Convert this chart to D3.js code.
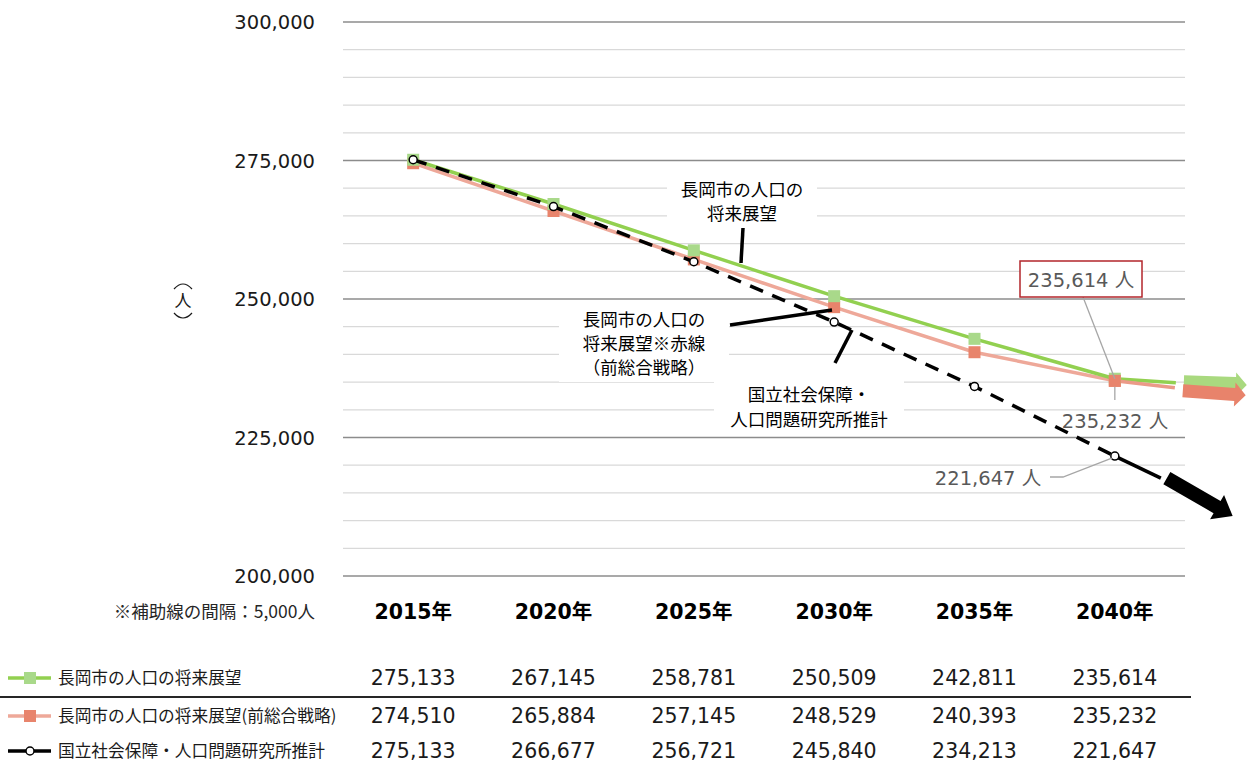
<!DOCTYPE html>
<html>
<head>
<meta charset="utf-8">
<script src="https://cdn.jsdelivr.net/npm/d3@7"></script>
<style>
  body { margin: 0; background: #fff; }
  svg { display: block; font-family: "DejaVu Sans", "Noto Sans CJK JP", sans-serif; }
</style>
</head>
<body>
<svg id="chart" width="1249" height="762"></svg>
<script>
// データ
const years = ["2015年", "2020年", "2025年", "2030年", "2035年", "2040年"];
const seriesNames = ["長岡市の人口の将来展望", "長岡市の人口の将来展望(前総合戦略)", "国立社会保障・人口問題研究所推計"];
const tenbou = [275133, 267145, 258781, 250509, 242811, 235614];
const zenSenryaku = [274510, 265884, 257145, 248529, 240393, 235232];
const shaho = [275133, 266677, 256721, 245840, 234213, 221647];
const yTicks = [200000, 225000, 250000, 275000, 300000];

const svg = d3.select("#chart");
const fmt = d3.format(",");

const x = d3.scaleBand().domain(years).range([343, 1185]);
const y = d3.scaleLinear().domain([200000, 300000]).range([576, 22]);
const cx = d => x(d) + x.bandwidth() / 2;

// 補助線
svg.append("g").selectAll("line")
    .data(d3.range(200000, 300001, 5000))
    .join("line")
    .attr("x1", 343).attr("x2", 1185)
    .attr("y1", d => y(d)).attr("y2", d => y(d))
    .attr("stroke", d => d % 25000 === 0 ? "#8c8c8c" : "#d9d9d9")
    .attr("stroke-width", d => d % 25000 === 0 ? 1.3 : 1.2);

// 縦軸ラベル
svg.append("g").selectAll("text")
    .data(yTicks)
    .join("text")
    .attr("x", 315).attr("y", d => y(d))
    .attr("dy", "0.36em")
    .attr("text-anchor", "end")
    .style("font-size", "19.5px")
    .style("fill", "#1a1a1a")
    .text(d => fmt(d));

// （人） 縦書き
const unit = svg.append("g");
unit.append("path").attr("d", "M174,289 Q183,279 192,289")
    .attr("fill", "none").attr("stroke", "#1a1a1a").attr("stroke-width", 1.2);
unit.append("text")
    .attr("x", 183).attr("y", 301)
    .attr("dy", "0.36em")
    .attr("text-anchor", "middle")
    .style("font-family", "'Noto Sans CJK JP'")
    .style("font-size", "17px")
    .style("fill", "#1a1a1a")
    .text("人");
unit.append("path").attr("d", "M174,313 Q183,323 192,313")
    .attr("fill", "none").attr("stroke", "#1a1a1a").attr("stroke-width", 1.2);

// 横軸ラベル
svg.append("g").selectAll("text")
    .data(years)
    .join("text")
    .attr("x", d => cx(d)).attr("y", 612)
    .attr("dy", "0.36em")
    .attr("text-anchor", "middle")
    .style("font-size", "20.5px")
    .style("font-weight", "bold")
    .style("fill", "#000")
    .text(d => d);

svg.append("text")
    .attr("x", 315).attr("y", 612)
    .attr("dy", "0.36em")
    .attr("text-anchor", "end")
    .style("font-family", "'Noto Sans CJK JP'")
    .style("font-size", "17.5px")
    .style("fill", "#262626")
    .text("※補助線の間隔：5,000人");

// 延長矢印
function arrow(g, x0, y0, angle, len, body, head, headLen, color) {
    const p = [[0, -body / 2], [len - headLen, -body / 2], [len - headLen, -head / 2], [len, 0],
               [len - headLen, head / 2], [len - headLen, body / 2], [0, body / 2]];
    g.append("path")
        .attr("d", "M" + p.join("L") + "Z")
        .attr("transform", `translate(${x0},${y0}) rotate(${angle})`)
        .attr("fill", color);
}

const last = years[years.length - 1];
const ext = svg.append("g");
// 緑
ext.append("line")
    .attr("x1", cx(last)).attr("y1", y(tenbou[5]))
    .attr("x2", cx(last) + 61).attr("y2", y(tenbou[5]) + 4)
    .attr("stroke", "#92d050").attr("stroke-width", 3.5);
arrow(ext, cx(last) + 69, y(tenbou[5]) + 4, 2, 63, 15, 24, 11, "#a9d97f");
// 赤
ext.append("line")
    .attr("x1", cx(last)).attr("y1", y(zenSenryaku[5]))
    .attr("x2", cx(last) + 60).attr("y2", y(zenSenryaku[5]) + 7)
    .attr("stroke", "#eb9a88").attr("stroke-width", 3.5);
arrow(ext, cx(last) + 68, y(zenSenryaku[5]) + 10, 4, 63, 13, 24, 11, "#e8836b");
// 黒
ext.append("line")
    .attr("x1", cx(last)).attr("y1", y(shaho[5]))
    .attr("x2", cx(last) + 46).attr("y2", y(shaho[5]) + 22)
    .attr("stroke", "#000").attr("stroke-width", 3.5);
arrow(ext, cx(last) + 52, y(shaho[5]) + 22, 30, 76, 14, 28, 18, "#000");

// 折れ線
const line = d3.line().x((d, i) => cx(years[i])).y(d => y(d));

svg.append("path").datum(zenSenryaku)
    .attr("d", line).attr("fill", "none")
    .attr("stroke", "#eea899").attr("stroke-width", 3.5);
svg.append("path").datum(tenbou)
    .attr("d", line).attr("fill", "none")
    .attr("stroke", "#92d050").attr("stroke-width", 3.5);

svg.append("g").selectAll("rect")
    .data(zenSenryaku)
    .join("rect")
    .attr("x", (d, i) => cx(years[i]) - 6).attr("y", d => y(d) - 6)
    .attr("width", 12).attr("height", 12)
    .attr("fill", "#e8846c");
svg.append("g").selectAll("rect")
    .data(tenbou)
    .join("rect")
    .attr("x", (d, i) => cx(years[i]) - 6).attr("y", d => y(d) - 6)
    .attr("width", 12).attr("height", 12)
    .attr("fill", "#a9d98a");
// 2040は赤が上
svg.append("rect")
    .attr("x", cx(last) - 6).attr("y", y(zenSenryaku[5]) - 6)
    .attr("width", 12).attr("height", 12)
    .attr("fill", "#e8846c");

svg.append("path").datum(shaho)
    .attr("d", line).attr("fill", "none")
    .attr("stroke", "#000").attr("stroke-width", 3.5)
    .attr("stroke-dasharray", "14,10");
svg.append("g").selectAll("circle")
    .data(shaho)
    .join("circle")
    .attr("cx", (d, i) => cx(years[i])).attr("cy", d => y(d))
    .attr("r", 4)
    .attr("fill", "#fff").attr("stroke", "#000").attr("stroke-width", 1.5);

// 吹き出し
const notes = svg.append("g").style("font-family", "'Noto Sans CJK JP'").style("font-size", "17.5px");
function callout(lines, xc, y0, w, lh) {
    const h = lines.length * lh + 8;
    notes.append("rect")
        .attr("x", xc - w / 2).attr("y", y0 - lh / 2 - 6)
        .attr("width", w).attr("height", h)
        .attr("fill", "#fff");
    notes.append("g").selectAll("text")
        .data(lines)
        .join("text")
        .attr("x", xc).attr("y", (d, i) => y0 + i * lh)
        .attr("dy", "0.36em")
        .attr("text-anchor", "middle")
        .style("fill", "#000")
        .text(d => d);
}
function leader(x1, y1, x2, y2) {
    notes.append("line")
        .attr("x1", x1).attr("y1", y1).attr("x2", x2).attr("y2", y2)
        .attr("stroke", "#000").attr("stroke-width", 3.5);
}
callout(["長岡市の人口の", "将来展望"], 742, 190, 150, 24);
leader(743, 228, 741, 263);
callout(["長岡市の人口の", "将来展望※赤線", "（前総合戦略）"], 644, 320, 170, 24);
leader(730, 325, 832, 310);
callout(["国立社会保障・", "人口問題研究所推計"], 809, 395, 190, 25);
leader(852, 330, 835, 363);

// データラベル
const lab = svg.append("g").style("font-size", "19.5px").style("fill", "#595959");
lab.append("line")
    .attr("x1", 1083).attr("y1", 297).attr("x2", cx(last)).attr("y2", y(tenbou[5]))
    .attr("stroke", "#a6a6a6").attr("stroke-width", 1.3);
lab.append("rect")
    .attr("x", 1020).attr("y", 261).attr("width", 122).attr("height", 36)
    .attr("fill", "#fff").attr("stroke", "#b3262b").attr("stroke-width", 1.5);
lab.append("text")
    .attr("x", 1081).attr("y", 280).attr("dy", "0.36em")
    .attr("text-anchor", "middle")
    .text(fmt(tenbou[5]) + " 人");

lab.append("line")
    .attr("x1", cx(last)).attr("y1", y(zenSenryaku[5]) + 6).attr("x2", cx(last)).attr("y2", 400)
    .attr("stroke", "#a6a6a6").attr("stroke-width", 1.3);
lab.append("text")
    .attr("x", 1115).attr("y", 421).attr("dy", "0.36em")
    .attr("text-anchor", "middle")
    .text(fmt(zenSenryaku[5]) + " 人");

lab.append("path")
    .attr("d", `M1050,477L1063,477L${cx(last) - 3},${y(shaho[5]) + 2}`)
    .attr("fill", "none")
    .attr("stroke", "#a6a6a6").attr("stroke-width", 1.3);
lab.append("text")
    .attr("x", 988).attr("y", 478).attr("dy", "0.36em")
    .attr("text-anchor", "middle")
    .text(fmt(shaho[5]) + " 人");

// データテーブル
const rowsY = [678, 716, 751];
const allSeries = [tenbou, zenSenryaku, shaho];
const table = svg.append("g");
allSeries.forEach((vals, r) => {
    table.append("g").selectAll("text")
        .data(vals)
        .join("text")
        .attr("x", (d, i) => cx(years[i])).attr("y", rowsY[r])
        .attr("dy", "0.36em")
        .attr("text-anchor", "middle")
        .style("font-size", "20.5px")
        .style("fill", "#1a1a1a")
        .text(d => fmt(d));
    table.append("text")
        .attr("x", 58).attr("y", rowsY[r])
        .attr("dy", "0.36em")
        .style("font-family", "'Noto Sans CJK JP'")
        .style("font-size", "16.7px")
        .style("fill", "#1a1a1a")
        .text(seriesNames[r]);
});
table.append("line")
    .attr("x1", 0).attr("x2", 1191).attr("y1", 697).attr("y2", 697)
    .attr("stroke", "#262626").attr("stroke-width", 1.8);

// 凡例記号
const lg = table.append("g");
lg.append("line").attr("x1", 8).attr("x2", 51).attr("y1", rowsY[0]).attr("y2", rowsY[0])
    .attr("stroke", "#92d050").attr("stroke-width", 3.5);
lg.append("rect").attr("x", 24).attr("y", rowsY[0] - 6).attr("width", 12).attr("height", 12).attr("fill", "#a9d98a");
lg.append("line").attr("x1", 8).attr("x2", 51).attr("y1", rowsY[1]).attr("y2", rowsY[1])
    .attr("stroke", "#eea899").attr("stroke-width", 3.5);
lg.append("rect").attr("x", 24).attr("y", rowsY[1] - 6).attr("width", 12).attr("height", 12).attr("fill", "#e8846c");
lg.append("line").attr("x1", 8).attr("x2", 51).attr("y1", rowsY[2]).attr("y2", rowsY[2])
    .attr("stroke", "#000").attr("stroke-width", 3.5);
lg.append("circle").attr("cx", 30).attr("cy", rowsY[2]).attr("r", 4)
    .attr("fill", "#fff").attr("stroke", "#000").attr("stroke-width", 1.5);
</script>
</body>
</html>
